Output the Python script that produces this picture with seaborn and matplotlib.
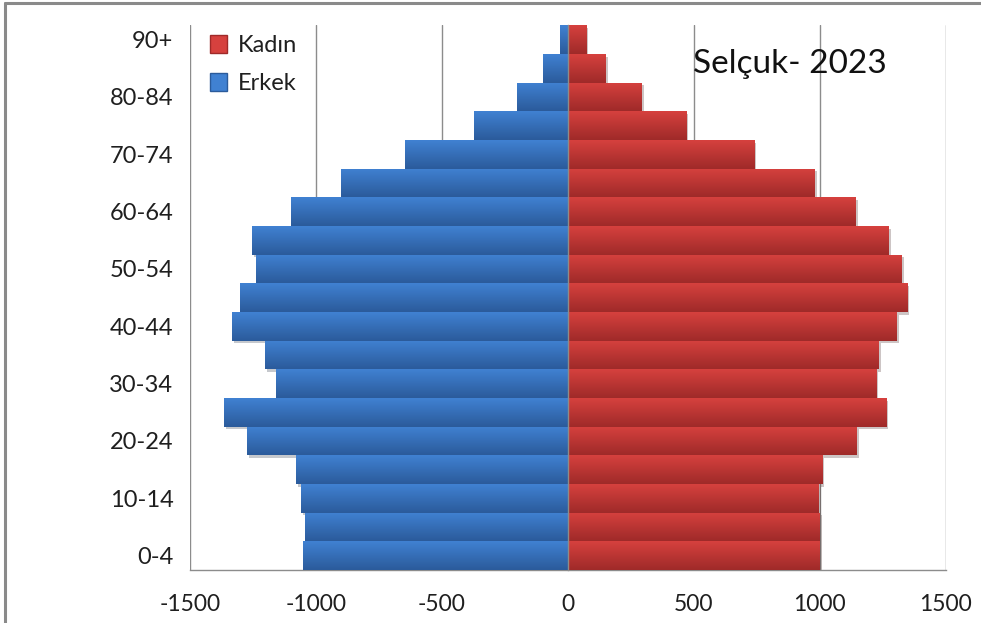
import numpy as np
import pandas as pd
import seaborn as sns
import matplotlib.pyplot as plt
from matplotlib.colors import LinearSegmentedColormap
from matplotlib.lines import Line2D
from matplotlib.patches import Patch
from matplotlib import patheffects as pe

# age groups, bottom to top
ages = ['0-4', '5-9', '10-14', '15-19', '20-24', '25-29', '30-34', '35-39', '40-44',
        '45-49', '50-54', '55-59', '60-64', '65-69', '70-74', '75-79', '80-84', '85-89', '90+']
erkek = [1050, 1045, 1061, 1081, 1274, 1366, 1158, 1203, 1335,
         1300, 1239, 1253, 1100, 902, 648, 374, 200, 98, 32]
kadin = [1000, 999, 996, 1009, 1147, 1264, 1224, 1233, 1305,
         1346, 1325, 1274, 1142, 979, 740, 470, 293, 150, 73]
xticks = [-1500, -1000, -500, 0, 500, 1000, 1500]
xtick_labels = ['-1500', '-1000', '-500', '0', '500', '1000', '1500']
title = 'Selçuk- 2023'

df = pd.DataFrame({
    'age': ages * 2,
    'value': [-v for v in erkek] + kadin,
    'sex': ['Erkek'] * len(ages) + ['Kadın'] * len(ages),
})

sns.set_style('white')
plt.rcParams['font.family'] = ['Lato', 'DejaVu Sans']
txt = '#1f1f1f'
gray = '#8c8c8c'

# light (top) and dark (bottom) shades for the bar gradient
shades = {'Kadın': ('#d6413e', '#9f2a29'), 'Erkek': ('#4081d2', '#2b5b9b')}
palette = {k: v[0] for k, v in shades.items()}

fig = plt.figure(figsize=(9.81, 6.23), dpi=100)
ax = fig.add_axes([190 / 981, 1 - 570 / 623, 755.7 / 981, 544.7 / 623])

order = ages[::-1]
sns.barplot(data=df, x='value', y='age', hue='sex', order=order,
            hue_order=['Erkek', 'Kadın'], palette=palette, dodge=False,
            width=1.0, orient='h', legend=False, ax=ax, zorder=2)

n = len(ages)
for bar, sex in zip(ax.patches, [s for s in ['Erkek', 'Kadın'] for _ in order]):
    bar.set_edgecolor('none')
    bar.set_path_effects([pe.SimplePatchShadow(offset=(1.5, -2), alpha=0.25), pe.Normal()])
    cmap = LinearSegmentedColormap.from_list(sex, list(shades[sex]))
    x0, y0, w, h = bar.get_x(), bar.get_y(), bar.get_width(), bar.get_height()
    grad = np.linspace(0, 1, 64).reshape(-1, 1)
    im = ax.imshow(grad, cmap=cmap, aspect='auto', origin='upper',
                   extent=(x0, x0 + w, y0 + h, y0), zorder=3, interpolation='bicubic')
    im.set_clip_path(bar)

ax.set_xlim(-1500, 1500)
ax.set_ylim(n - 0.5, -0.5)

# x axis
ax.set_xticks(xticks, xtick_labels)
ax.tick_params(axis='x', direction='out', length=9, width=1, color=gray,
               labelsize=16.5, labelcolor=txt, pad=8)
ax.xaxis.grid(True, color=gray, lw=1)
ax.set_axisbelow(True)
for s in ['top', 'right']:
    ax.spines[s].set_visible(False)
ax.spines['bottom'].set_color(gray)
ax.spines['bottom'].set_linewidth(1)

# y axis line through zero with category ticks
ax.spines['left'].set_position(('data', 0))
ax.spines['left'].set_color(gray)
ax.spines['left'].set_linewidth(1)
ax.spines['left'].set_zorder(4)
ax.set_yticks(np.arange(n + 1) - 0.5)
ax.set_yticks(np.arange(n), minor=True)
ax.tick_params(axis='y', which='major', direction='inout', length=19, width=1,
               color=gray, labelleft=False)
ax.tick_params(axis='y', which='minor', direction='inout', length=14, width=1,
               color=gray, labelleft=False)
for t in ax.yaxis.get_major_ticks() + ax.yaxis.get_minor_ticks():
    t.tick1line.set_zorder(5)
ax.set_xlabel('')
ax.set_ylabel('')

# category labels on the left edge
sec = ax.secondary_yaxis('left')
sec.spines['left'].set_visible(False)
sec.set_yticks([order.index(a) for a in ages[::2]], ages[::2])
sec.tick_params(length=0, labelsize=17, labelcolor=txt, pad=12)

# legend
handles = [Patch(facecolor=shades['Kadın'][0], edgecolor=shades['Kadın'][1], label='Kadın'),
           Patch(facecolor=shades['Erkek'][0], edgecolor=shades['Erkek'][1], label='Erkek')]
ax.legend(handles=handles, loc='upper left', bbox_to_anchor=(0.026, 0.982),
          frameon=False, fontsize=17, handlelength=0.75, handleheight=0.75,
          handletextpad=0.45, labelspacing=0.72, borderpad=0, borderaxespad=0,
          labelcolor=txt)

ax.text(0.666, 0.912, title, transform=ax.transAxes, fontsize=24, color='#111111',
        ha='left', va='baseline')

# outer frame (top and left edges visible)
fig.add_artist(Line2D([5 / 981, 1], [1 - 3 / 623, 1 - 3 / 623], transform=fig.transFigure,
                      color='#8a8a8a', lw=2.2))
fig.add_artist(Line2D([5 / 981, 5 / 981], [0, 1 - 3 / 623], transform=fig.transFigure,
                      color='#8a8a8a', lw=2.2))

fig.savefig('out.png', dpi=100)
